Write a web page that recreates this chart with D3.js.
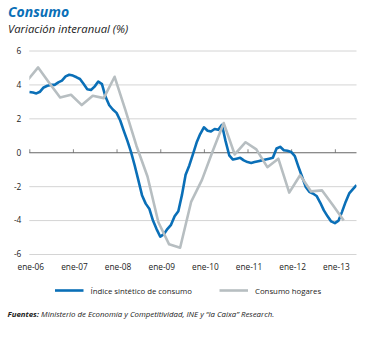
<!DOCTYPE html>
<html>
<head>
<meta charset="utf-8">
<script src="https://cdn.jsdelivr.net/npm/d3@7"></script>
<style>
  body { margin: 0; background: #fff; }
  svg { display: block; font-family: "Open Sans", sans-serif; }
</style>
</head>
<body>
<svg id="chart"></svg>
<script>
  const w = 368;
  const h = 338;

  // Índice sintético de consumo, mensual desde ene-06
  const blueStart = "2006-01";
  const blueValues = [
    3.58, 3.55, 3.5, 3.6, 3.85, 3.95, 4.0, 4.0, 4.15, 4.25, 4.5, 4.6,
    4.55, 4.45, 4.35, 4.05, 3.75, 3.7, 3.9, 4.2, 4.05, 3.3, 2.8, 2.55,
    2.35, 1.9, 1.3, 0.7, 0.05, -0.75, -1.6, -2.5, -3.0, -3.3, -4.0, -4.5,
    -4.95, -4.8, -4.5, -4.25, -3.75, -3.45, -2.5, -1.3, -0.75, -0.1, 0.6, 1.1,
    1.5, 1.3, 1.25, 1.4, 1.35, 1.65, 0.7, -0.15, -0.4, -0.35, -0.3, -0.45,
    -0.55, -0.6, -0.55, -0.5, -0.45, -0.4, -0.35, -0.3, 0.25, 0.35, 0.15, 0.12,
    0.05, -0.2, -0.8, -1.4, -2.0, -2.3, -2.4, -2.55, -2.95, -3.4, -3.75, -4.05,
    -4.15, -4.0, -3.5, -2.9, -2.4, -2.15, -1.9
  ];

  // Consumo hogares, trimestral
  const grayQuarters = [
    "2005-T4",
    "2006-T1", "2006-T2", "2006-T3", "2006-T4",
    "2007-T1", "2007-T2", "2007-T3", "2007-T4",
    "2008-T1", "2008-T2", "2008-T3", "2008-T4",
    "2009-T1", "2009-T2", "2009-T3", "2009-T4",
    "2010-T1", "2010-T2", "2010-T3", "2010-T4",
    "2011-T1", "2011-T2", "2011-T3", "2011-T4",
    "2012-T1", "2012-T2", "2012-T3", "2012-T4",
    "2013-T1"
  ];
  const grayValues = [
    4.27,
    5.03, 4.13, 3.26, 3.42,
    2.81, 3.36, 3.22, 4.48,
    2.5, 0.4, -1.4, -4.1,
    -5.4, -5.6, -2.9, -1.6,
    0.1, 1.75, -0.1, 0.62,
    0.2, -0.85, -0.35, -2.35,
    -1.33, -2.28, -2.22, -3.1,
    -4.0
  ];

  const yTicks = [6, 4, 2, 0, -2, -4, -6];
  const xTickYears = [2006, 2007, 2008, 2009, 2010, 2011, 2012, 2013];

  const parseMonth = d3.timeParse("%Y-%m");
  const blueData = blueValues.map((v, i) => ({
    date: d3.timeMonth.offset(parseMonth(blueStart), i),
    value: v
  }));
  const grayData = grayQuarters.map((q, i) => {
    const [yr, t] = q.split("-T");
    return { date: new Date(+yr, (+t - 1) * 3 + 2, 16), value: grayValues[i] };
  });

  const margin = { left: 29.3, right: 11.5, top: 51, bottom: 83.5 };
  const iw = w - margin.left - margin.right;
  const ih = h - margin.top - margin.bottom;

  const x = d3.scaleTime()
    .domain([new Date(2006, 0, 1), new Date(2013, 6, 1)])
    .range([0, iw]);
  const y = d3.scaleLinear().domain([-6, 6]).range([ih, 0]);

  const svg = d3.select("#chart").attr("width", w).attr("height", h);

  svg.append("text")
    .attr("x", 8).attr("y", 17)
    .attr("fill", "#0a6fb7")
    .attr("font-size", 14)
    .attr("font-weight", "bold")
    .attr("font-style", "italic")
    .text("Consumo");

  svg.append("text")
    .attr("x", 8).attr("y", 32.5)
    .attr("fill", "#222")
    .attr("font-size", 11.3)
    .attr("font-style", "italic")
    .text("Variación interanual (%)");

  svg.append("defs").append("clipPath").attr("id", "clip")
    .append("rect").attr("x", 0).attr("y", -10).attr("width", iw).attr("height", ih + 20);

  const g = svg.append("g").attr("transform", `translate(${margin.left},${margin.top})`);

  g.selectAll(".grid")
    .data(yTicks.filter((d) => d !== 0))
    .enter()
    .append("line")
    .attr("class", "grid")
    .attr("x1", 0).attr("x2", iw)
    .attr("y1", (d) => y(d)).attr("y2", (d) => y(d))
    .attr("stroke", "#c9c9c9")
    .attr("stroke-width", 0.8);

  g.selectAll(".ylab")
    .data(yTicks)
    .enter()
    .append("text")
    .attr("class", "ylab")
    .attr("x", -8)
    .attr("y", (d) => y(d))
    .attr("dy", "0.35em")
    .attr("text-anchor", "end")
    .attr("font-size", 8.3)
    .attr("fill", "#222")
    .text((d) => d);

  // eje cero con marcas hacia arriba
  const xAxis = d3.axisTop(x)
    .tickValues(xTickYears.map((yr) => new Date(yr, 0, 1)))
    .tickSize(3.5)
    .tickFormat("");
  const ax = g.append("g").attr("transform", `translate(0,${y(0)})`).call(xAxis);
  ax.select(".domain").remove();
  ax.selectAll(".tick line").attr("stroke", "#666").attr("stroke-width", 0.8);
  g.append("line")
    .attr("x1", 0).attr("x2", iw)
    .attr("y1", y(0)).attr("y2", y(0))
    .attr("stroke", "#666")
    .attr("stroke-width", 1);

  const fmt = d3.timeFormat("%y");
  g.selectAll(".xlab")
    .data(xTickYears)
    .enter()
    .append("text")
    .attr("class", "xlab")
    .attr("x", (d) => x(new Date(d, 0, 1)) + 1.5)
    .attr("y", ih + 15)
    .attr("text-anchor", "middle")
    .attr("font-size", 8.3)
    .attr("fill", "#222")
    .text((d) => "ene-" + fmt(new Date(d, 0, 1)));

  const line = d3.line()
    .x((d) => x(d.date))
    .y((d) => y(d.value));

  const lines = g.append("g").attr("clip-path", "url(#clip)");

  lines.append("path")
    .datum(blueData)
    .attr("fill", "none")
    .attr("stroke", "#0a6fb7")
    .attr("stroke-width", 2.6)
    .attr("stroke-linejoin", "round")
    .attr("d", line);

  lines.append("path")
    .datum(grayData)
    .attr("fill", "none")
    .attr("stroke", "#b7bec1")
    .attr("stroke-width", 2.6)
    .attr("stroke-linejoin", "round")
    .attr("d", line);

  const legend = [
    { name: "Índice sintético de consumo", color: "#0a6fb7", x: 55 },
    { name: "Consumo hogares", color: "#b7bec1", x: 219.5 }
  ];
  const lg = svg.selectAll(".legend-item")
    .data(legend)
    .enter()
    .append("g")
    .attr("class", "legend-item");
  lg.append("line")
    .attr("x1", (d) => d.x).attr("x2", (d) => d.x + 28.5)
    .attr("y1", 290.5).attr("y2", 290.5)
    .attr("stroke", (d) => d.color)
    .attr("stroke-width", 2.6);
  lg.append("text")
    .attr("x", (d) => d.x + 35.5)
    .attr("y", 293.5)
    .attr("font-size", 7.8)
    .attr("fill", "#222")
    .text((d) => d.name);

  const src = svg.append("text")
    .attr("x", 7.5).attr("y", 317)
    .attr("font-size", 7.85)
    .attr("font-style", "italic")
    .attr("fill", "#222");
  src.append("tspan").attr("font-weight", "bold").text("Fuentes:");
  src.append("tspan").text(" Ministerio de Economía y Competitividad, INE y “la Caixa” Research.");
</script>
</body>
</html>
